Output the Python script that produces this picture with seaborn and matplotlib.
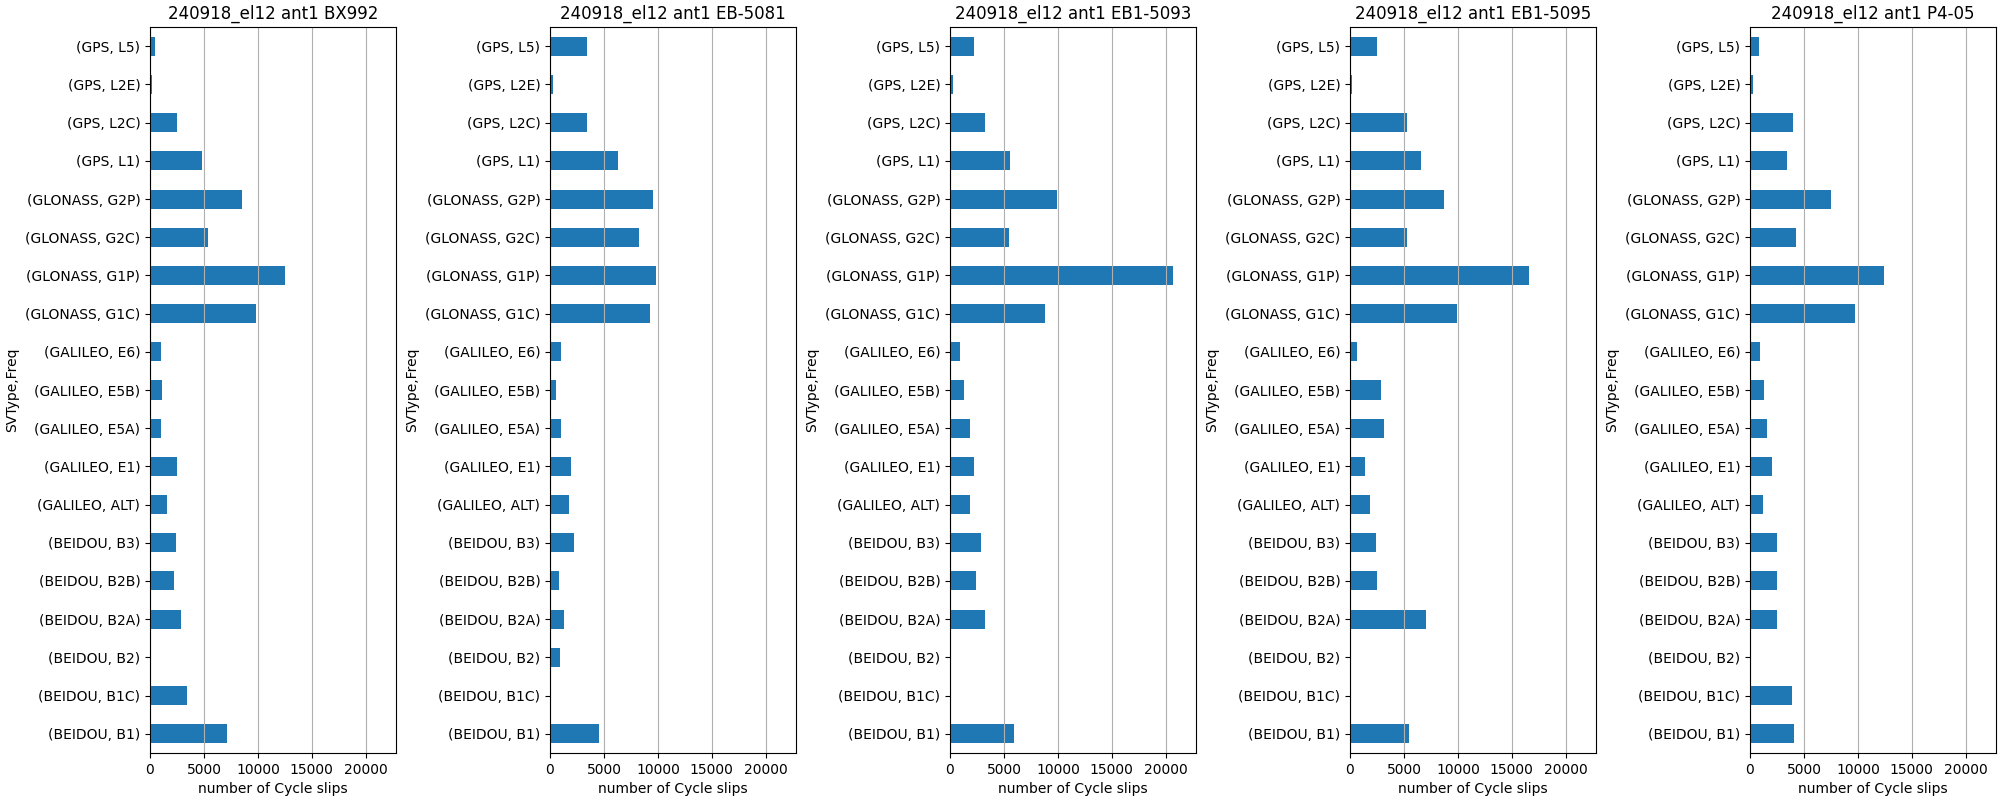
import matplotlib
matplotlib.use("Agg")
import matplotlib.pyplot as plt
import seaborn as sns
import pandas as pd

# signal labels, top to bottom
signals = [
    "(GPS, L5)", "(GPS, L2E)", "(GPS, L2C)", "(GPS, L1)",
    "(GLONASS, G2P)", "(GLONASS, G2C)", "(GLONASS, G1P)", "(GLONASS, G1C)",
    "(GALILEO, E6)", "(GALILEO, E5B)", "(GALILEO, E5A)", "(GALILEO, E1)",
    "(GALILEO, ALT)", "(BEIDOU, B3)", "(BEIDOU, B2B)", "(BEIDOU, B2A)",
    "(BEIDOU, B2)", "(BEIDOU, B1C)", "(BEIDOU, B1)",
]

receivers = ["BX992", "EB-5081", "EB1-5093", "EB1-5095", "P4-05"]

# cycle slip counts per receiver (same order as signals)
slips_bx992 = [500, 220, 2530, 4850, 8550, 5400, 12530, 9850, 1050, 1140,
               1050, 2530, 1600, 2440, 2250, 2900, 0, 3460, 7160]
slips_eb5081 = [3460, 310, 3460, 6330, 9570, 8270, 9850, 9290, 1050, 590,
                1050, 1980, 1790, 2250, 860, 1330, 960, 0, 4570]
slips_eb15093 = [2250, 310, 3270, 5590, 9940, 5490, 20680, 8830, 960, 1330,
                 1880, 2250, 1880, 2900, 2440, 3270, 120, 0, 5960]
slips_eb15095 = [2530, 220, 5310, 6600, 8730, 5310, 16600, 9940, 680, 2900,
                 3180, 1420, 1880, 2440, 2530, 7070, 120, 0, 5490]
slips_p405 = [860, 310, 4010, 3460, 7530, 4290, 12440, 9750, 960, 1330,
              1600, 2070, 1230, 2530, 2530, 2530, 0, 3920, 4100]

all_slips = [slips_bx992, slips_eb5081, slips_eb15093, slips_eb15095, slips_p405]

x_max = 22800

fig, axes = plt.subplots(1, 5, figsize=(20, 8), dpi=100)

for ax, name, slips in zip(axes, receivers, all_slips):
    df = pd.DataFrame({"SVType,Freq": signals, "slips": slips})
    sns.barplot(data=df, x="slips", y="SVType,Freq", order=signals,
                color="#1f77b4", saturation=1, width=0.5, ax=ax)
    ax.set_xlim(0, x_max)
    ax.set_xticks([0, 5000, 10000, 15000, 20000])
    ax.set_title(f"240918_el12 ant1 {name}", fontsize=12)
    ax.set_xlabel("number of Cycle slips")
    ax.set_ylabel("SVType,Freq")
    ax.xaxis.grid(True, color="#b0b0b0", linewidth=0.8)
    ax.yaxis.grid(False)

plt.subplots_adjust(left=0.075, right=0.998, top=0.966, bottom=0.059, wspace=0.626)
plt.savefig("out.png")
